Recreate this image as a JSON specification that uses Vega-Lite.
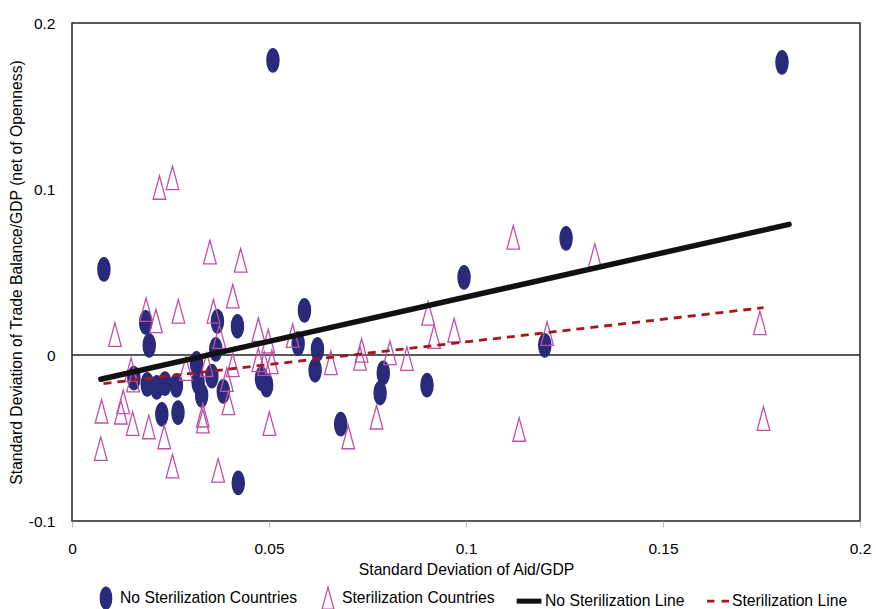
{
  "$schema": "https://vega.github.io/schema/vega-lite/v6.json",
  "width": 788,
  "height": 498,
  "autosize": "none",
  "padding": {"left": 72, "top": 23, "right": 16, "bottom": 88},
  "background": "white",
  "config": {
    "font": "Liberation Sans",
    "view": {"stroke": "#222222", "strokeWidth": 1.5},
    "axis": {"grid": false, "labelColor": "#000000", "titleColor": "#000000", "labelFontSize": 15.5, "titleFontSize": 15.7, "titleFontWeight": "normal", "domain": false},
    "legend": {"title": null, "orient": "none", "legendX": 22, "legendY": 563, "direction": "horizontal", "labelFontSize": 15.7, "labelColor": "#000000", "labelLimit": 400, "labelOffset": 2, "columnPadding": 19, "symbolSize": 484, "symbolStrokeWidth": 1.3, "symbolOpacity": 1}
  },
  "datasets": {
    "pts": [
      {"x": 0.0510, "y": 0.1775, "group": "No Sterilization Countries"},
      {"x": 0.1802, "y": 0.1763, "group": "No Sterilization Countries"},
      {"x": 0.0081, "y": 0.0516, "group": "No Sterilization Countries"},
      {"x": 0.1254, "y": 0.0703, "group": "No Sterilization Countries"},
      {"x": 0.0995, "y": 0.0468, "group": "No Sterilization Countries"},
      {"x": 0.0590, "y": 0.0269, "group": "No Sterilization Countries"},
      {"x": 0.1200, "y": 0.0058, "group": "No Sterilization Countries"},
      {"x": 0.0623, "y": 0.0034, "group": "No Sterilization Countries"},
      {"x": 0.0574, "y": 0.0069, "group": "No Sterilization Countries"},
      {"x": 0.0617, "y": -0.0092, "group": "No Sterilization Countries"},
      {"x": 0.0790, "y": -0.0108, "group": "No Sterilization Countries"},
      {"x": 0.0782, "y": -0.0229, "group": "No Sterilization Countries"},
      {"x": 0.0901, "y": -0.0182, "group": "No Sterilization Countries"},
      {"x": 0.0682, "y": -0.0417, "group": "No Sterilization Countries"},
      {"x": 0.0422, "y": -0.0771, "group": "No Sterilization Countries"},
      {"x": 0.0481, "y": -0.0142, "group": "No Sterilization Countries"},
      {"x": 0.0494, "y": -0.0182, "group": "No Sterilization Countries"},
      {"x": 0.0420, "y": 0.0173, "group": "No Sterilization Countries"},
      {"x": 0.0369, "y": 0.0203, "group": "No Sterilization Countries"},
      {"x": 0.0365, "y": 0.0034, "group": "No Sterilization Countries"},
      {"x": 0.0355, "y": -0.0128, "group": "No Sterilization Countries"},
      {"x": 0.0384, "y": -0.0219, "group": "No Sterilization Countries"},
      {"x": 0.0329, "y": -0.0243, "group": "No Sterilization Countries"},
      {"x": 0.0320, "y": -0.0163, "group": "No Sterilization Countries"},
      {"x": 0.0316, "y": -0.0050, "group": "No Sterilization Countries"},
      {"x": 0.0196, "y": 0.0058, "group": "No Sterilization Countries"},
      {"x": 0.0187, "y": 0.0197, "group": "No Sterilization Countries"},
      {"x": 0.0191, "y": -0.0177, "group": "No Sterilization Countries"},
      {"x": 0.0215, "y": -0.0195, "group": "No Sterilization Countries"},
      {"x": 0.0236, "y": -0.0172, "group": "No Sterilization Countries"},
      {"x": 0.0265, "y": -0.0183, "group": "No Sterilization Countries"},
      {"x": 0.0228, "y": -0.0357, "group": "No Sterilization Countries"},
      {"x": 0.0269, "y": -0.0347, "group": "No Sterilization Countries"},
      {"x": 0.0157, "y": -0.0140, "group": "No Sterilization Countries"},
      {"x": 0.0222, "y": 0.1009, "group": "Sterilization Countries"},
      {"x": 0.0255, "y": 0.1067, "group": "Sterilization Countries"},
      {"x": 0.0350, "y": 0.0620, "group": "Sterilization Countries"},
      {"x": 0.0428, "y": 0.0570, "group": "Sterilization Countries"},
      {"x": 0.0109, "y": 0.0123, "group": "Sterilization Countries"},
      {"x": 0.0188, "y": 0.0273, "group": "Sterilization Countries"},
      {"x": 0.0213, "y": 0.0205, "group": "Sterilization Countries"},
      {"x": 0.0270, "y": 0.0263, "group": "Sterilization Countries"},
      {"x": 0.0359, "y": 0.0263, "group": "Sterilization Countries"},
      {"x": 0.0408, "y": 0.0354, "group": "Sterilization Countries"},
      {"x": 0.0374, "y": 0.0111, "group": "Sterilization Countries"},
      {"x": 0.0473, "y": 0.0152, "group": "Sterilization Countries"},
      {"x": 0.0498, "y": 0.0083, "group": "Sterilization Countries"},
      {"x": 0.0560, "y": 0.0116, "group": "Sterilization Countries"},
      {"x": 0.0150, "y": -0.0088, "group": "Sterilization Countries"},
      {"x": 0.0155, "y": -0.0152, "group": "Sterilization Countries"},
      {"x": 0.0289, "y": -0.0082, "group": "Sterilization Countries"},
      {"x": 0.0342, "y": -0.0059, "group": "Sterilization Countries"},
      {"x": 0.0408, "y": -0.0060, "group": "Sterilization Countries"},
      {"x": 0.0393, "y": -0.0148, "group": "Sterilization Countries"},
      {"x": 0.0397, "y": -0.0288, "group": "Sterilization Countries"},
      {"x": 0.0473, "y": -0.0029, "group": "Sterilization Countries"},
      {"x": 0.0488, "y": -0.0052, "group": "Sterilization Countries"},
      {"x": 0.0507, "y": -0.0042, "group": "Sterilization Countries"},
      {"x": 0.0657, "y": -0.0047, "group": "Sterilization Countries"},
      {"x": 0.0731, "y": -0.0020, "group": "Sterilization Countries"},
      {"x": 0.0735, "y": 0.0028, "group": "Sterilization Countries"},
      {"x": 0.0807, "y": 0.0013, "group": "Sterilization Countries"},
      {"x": 0.0850, "y": -0.0022, "group": "Sterilization Countries"},
      {"x": 0.0904, "y": 0.0251, "group": "Sterilization Countries"},
      {"x": 0.0919, "y": 0.0111, "group": "Sterilization Countries"},
      {"x": 0.0970, "y": 0.0149, "group": "Sterilization Countries"},
      {"x": 0.0075, "y": -0.0339, "group": "Sterilization Countries"},
      {"x": 0.0073, "y": -0.0564, "group": "Sterilization Countries"},
      {"x": 0.0130, "y": -0.0283, "group": "Sterilization Countries"},
      {"x": 0.0124, "y": -0.0345, "group": "Sterilization Countries"},
      {"x": 0.0154, "y": -0.0413, "group": "Sterilization Countries"},
      {"x": 0.0195, "y": -0.0434, "group": "Sterilization Countries"},
      {"x": 0.0234, "y": -0.0494, "group": "Sterilization Countries"},
      {"x": 0.0255, "y": -0.0670, "group": "Sterilization Countries"},
      {"x": 0.0332, "y": -0.0363, "group": "Sterilization Countries"},
      {"x": 0.0332, "y": -0.0399, "group": "Sterilization Countries"},
      {"x": 0.0371, "y": -0.0695, "group": "Sterilization Countries"},
      {"x": 0.0501, "y": -0.0413, "group": "Sterilization Countries"},
      {"x": 0.0701, "y": -0.0494, "group": "Sterilization Countries"},
      {"x": 0.0773, "y": -0.0375, "group": "Sterilization Countries"},
      {"x": 0.1120, "y": 0.0709, "group": "Sterilization Countries"},
      {"x": 0.1327, "y": 0.0600, "group": "Sterilization Countries"},
      {"x": 0.1206, "y": 0.0129, "group": "Sterilization Countries"},
      {"x": 0.1135, "y": -0.0449, "group": "Sterilization Countries"},
      {"x": 0.1746, "y": 0.0193, "group": "Sterilization Countries"},
      {"x": 0.1755, "y": -0.0383, "group": "Sterilization Countries"}
    ],
    "noLine": [
      {"x": 0.0073, "y": -0.0146},
      {"x": 0.1820, "y": 0.0787}
    ],
    "stLine": [
      {"x": 0.0080, "y": -0.0172},
      {"x": 0.1755, "y": 0.0285}
    ],
    "zero": [{"y": 0}]
  },
  "layer": [
    {
      "data": {"name": "zero"},
      "mark": {"type": "rule", "color": "#222222", "strokeWidth": 1.3},
      "encoding": {
        "y": {"field": "y", "type": "quantitative"}
      }
    },
    {
      "data": {"name": "pts"},
      "mark": {"type": "point", "size": 550, "strokeWidth": 1.3, "opacity": 1},
      "encoding": {
        "x": {
          "field": "x", "type": "quantitative",
          "scale": {"domain": [0, 0.2], "nice": false, "zero": false},
          "axis": {"title": "Standard Deviation of Aid/GDP", "values": [0, 0.05, 0.1, 0.15, 0.2], "labelExpr": "'' + datum.value", "ticks": true, "tickColor": "#bbbbbb", "tickSize": 6, "labelPadding": 14, "titlePadding": 6, "labelFlush": false}
        },
        "y": {
          "field": "y", "type": "quantitative",
          "scale": {"domain": [-0.1, 0.2], "nice": false, "zero": false},
          "axis": {"title": "Standard Deviation of Trade Balance/GDP (net of Openness)", "values": [-0.1, 0, 0.1, 0.2], "labelExpr": "'' + datum.value", "ticks": false, "labelPadding": 17, "titlePadding": 4, "labelFlush": false}
        },
        "shape": {
          "field": "group", "type": "nominal",
          "scale": {
            "domain": ["No Sterilization Countries", "Sterilization Countries", "No Sterilization Line", "Sterilization Line"],
            "range": ["M0,-1A0.52,1 0 1,1 0,1A0.52,1 0 1,1 0,-1Z", "M0,-1L0.54,1L-0.54,1Z", "M-1.3,-0.23H0.95V0.23H-1.3Z", "M-1,-0.12H-0.33V0.12H-1Z M0.33,-0.12H1V0.12H0.33Z"]
          }
        },
        "fill": {
          "field": "group", "type": "nominal",
          "scale": {
            "domain": ["No Sterilization Countries", "Sterilization Countries", "No Sterilization Line", "Sterilization Line"],
            "range": ["#292b7a", "transparent", "#111111", "#a3161c"]
          }
        },
        "stroke": {
          "field": "group", "type": "nominal",
          "scale": {
            "domain": ["No Sterilization Countries", "Sterilization Countries", "No Sterilization Line", "Sterilization Line"],
            "range": ["#292b7a", "#c04fa8", "transparent", "transparent"]
          }
        }
      }
    },
    {
      "data": {"name": "noLine"},
      "mark": {"type": "line", "color": "#111111", "strokeWidth": 5.5, "strokeCap": "round"},
      "encoding": {
        "x": {"field": "x", "type": "quantitative"},
        "y": {"field": "y", "type": "quantitative"}
      }
    },
    {
      "data": {"name": "stLine"},
      "mark": {"type": "line", "color": "#a3161c", "strokeWidth": 2.8, "strokeDash": [8, 6]},
      "encoding": {
        "x": {"field": "x", "type": "quantitative"},
        "y": {"field": "y", "type": "quantitative"}
      }
    }
  ]
}
